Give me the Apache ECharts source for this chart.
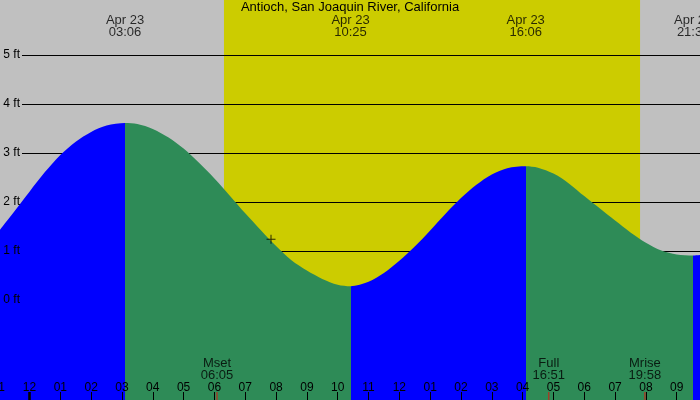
<!DOCTYPE html>
<html>
<head>
<meta charset="utf-8">
<script src="https://cdn.jsdelivr.net/npm/echarts@6/dist/echarts.min.js"></script>
<style>
  html, body { margin: 0; padding: 0; background: #c0c0c0; }
  #chart { width: 700px; height: 400px; }
</style>
</head>
<body>
<div id="chart"></div>
<script>
// tide height (ft), hours since midnight Apr 23
const tideHours = [-1, -0.5, 0, 0.5, 1, 1.5, 2, 2.5, 3.1, 3.5, 4, 4.5, 5, 5.5, 6, 6.5, 7, 7.5, 8, 8.5, 9, 9.5, 10, 10.417,
  11, 11.5, 12, 12.5, 13, 13.5, 14, 14.5, 15, 15.5, 16.1, 16.5, 17, 17.5, 18, 18.5, 19, 19.5, 20, 20.5, 21, 21.533, 22];
const tideFeet = [1.40, 1.80, 2.21, 2.61, 2.96, 3.23, 3.43, 3.56, 3.61, 3.59, 3.49, 3.32, 3.09, 2.80, 2.48, 2.13, 1.77, 1.43, 1.10, 0.81, 0.60, 0.43, 0.31, 0.28,
  0.37, 0.55, 0.80, 1.09, 1.42, 1.76, 2.08, 2.35, 2.56, 2.69, 2.73, 2.70, 2.58, 2.38, 2.12, 1.87, 1.62, 1.38, 1.17, 1.01, 0.93, 0.91, 0.94];

// high / low tide times (first one is a high)
const extremeHours = [3.1, 10.417, 16.1, 21.533];
const extremeTimes = ['03:06', '10:25', '16:06', '21:32'];
const extremeDate = 'Apr 23';

const sunHours = [6.31, 19.81];          // sunrise, sunset
const moonHours = [6.083, 16.85, 19.967];
const moonNames = ['Mset', 'Full', 'Mrise'];
const moonTimes = ['06:05', '16:51', '19:58'];
const midnightHours = [0];
const nowPoint = [7.836, 1.24];
const feetTicks = [0, 5];                // lines drawn for 0..5 ft

const title = 'Antioch, San Joaquin River, California';

// visible range of the main grid: 0 ft at y=300, 49 px per ft
const FT_MIN = -100 / 49;
const FT_MAX = 300 / 49;

const BLUE = '#0000ff';
const GREEN = '#2e8b57';
const FONT = 'Liberation Sans, Arial, sans-serif';

// rising = blue, falling = green
const pieces = [{ lt: extremeHours[0], color: BLUE }];
for (let i = 0; i < extremeHours.length; i++) {
  const p = { gte: extremeHours[i], color: i % 2 === 0 ? GREEN : BLUE };
  if (i + 1 < extremeHours.length) p.lt = extremeHours[i + 1];
  pieces.push(p);
}

const hourLabel = v => {
  let h = ((v % 12) + 12) % 12;
  if (h === 0) h = 12;
  return String(h).padStart(2, '0');
};

const chart = echarts.init(document.getElementById('chart'));
chart.setOption({
  backgroundColor: '#c0c0c0',
  animation: false,
  textStyle: { fontFamily: FONT },
  title: {
    text: title, left: 'center', top: 1, padding: 0,
    textStyle: { fontSize: 13, fontWeight: 'normal', color: '#000', fontFamily: FONT }
  },
  grid: [
    { left: -1.32, right: -7.54, top: 0, bottom: 0, outerBoundsMode: 'none', containLabel: false },
    { left: 22, right: 0, top: 55, bottom: 100, outerBoundsMode: 'none', containLabel: false }
  ],
  xAxis: [
    {
      gridIndex: 0, type: 'value', min: -1, max: 22, interval: 1, z: 4, position: 'bottom',
      axisLine: { show: false, onZero: false },
      splitLine: { show: false },
      axisTick: { show: true, inside: true, length: 8, lineStyle: { color: '#000', width: 1 } },
      axisLabel: { inside: true, margin: 6, color: '#000', fontSize: 12, fontFamily: FONT, formatter: hourLabel }
    },
    { gridIndex: 1, type: 'value', min: 0, max: 1, show: false, axisLine: { onZero: false } }
  ],
  yAxis: [
    { gridIndex: 0, type: 'value', min: FT_MIN, max: FT_MAX, show: false, axisLine: { onZero: false } },
    {
      gridIndex: 1, type: 'value', min: feetTicks[0], max: feetTicks[1], interval: 1, z: 2, position: 'left',
      axisLine: { show: false, onZero: false }, axisTick: { show: false }, axisLabel: { show: false },
      splitLine: { show: true, lineStyle: { color: '#000', width: 1 } }
    },
    {
      gridIndex: 1, type: 'value', min: feetTicks[0], max: feetTicks[1], interval: 1, z: 4, position: 'left', offset: 0,
      axisLine: { show: false, onZero: false }, axisTick: { show: false }, splitLine: { show: false },
      axisLabel: { margin: 2, color: '#000', fontSize: 12, fontFamily: FONT, formatter: v => v + ' ft' }
    }
  ],
  visualMap: {
    type: 'piecewise', show: false, dimension: 0, seriesIndex: 1, pieces: pieces
  },
  series: [
    {
      name: 'daylight', type: 'line', xAxisIndex: 0, yAxisIndex: 0, z: 1,
      data: sunHours.map(h => [h, FT_MAX]),
      symbol: 'none', lineStyle: { width: 0 },
      areaStyle: { color: '#cccc00', opacity: 1, origin: 'start' }
    },
    {
      name: 'tide', type: 'line', xAxisIndex: 0, yAxisIndex: 0, z: 3,
      data: tideHours.map((h, i) => [h, tideFeet[i]]),
      smooth: 0.3, symbol: 'none', lineStyle: { width: 0 },
      areaStyle: { opacity: 1, origin: 'start' }
    },
    {
      name: 'extremes', type: 'scatter', xAxisIndex: 0, yAxisIndex: 0, z: 5, clip: false,
      symbolSize: 0, silent: true,
      data: extremeHours.map((h, i) => ({ value: [h, FT_MAX], time: extremeTimes[i] })),
      label: {
        show: true, position: 'bottom', distance: 14, color: '#000', fontSize: 13, lineHeight: 12, fontFamily: FONT,
        formatter: p => extremeDate + '\n' + p.data.time
      }
    },
    {
      name: 'moon', type: 'scatter', xAxisIndex: 0, yAxisIndex: 0, z: 5, clip: false,
      symbol: 'rect', symbolSize: [1, 8], symbolOffset: [0, -4],
      itemStyle: { color: '#ff0000' },
      data: moonHours.map((h, i) => ({ value: [h, FT_MIN], name: moonNames[i], time: moonTimes[i] })),
      label: {
        show: true, position: 'top', distance: 11, color: '#000', fontSize: 13, lineHeight: 12, fontFamily: FONT,
        formatter: p => p.data.name + '\n' + p.data.time
      }
    },
    {
      name: 'midnight', type: 'scatter', xAxisIndex: 0, yAxisIndex: 0, z: 5, clip: false,
      symbol: 'rect', symbolSize: [3, 8], symbolOffset: [0, -4],
      itemStyle: { color: '#000' },
      data: midnightHours.map(h => [h, FT_MIN])
    },
    {
      name: 'now', type: 'scatter', xAxisIndex: 0, yAxisIndex: 0, z: 5,
      symbol: 'path://M0,4h9v1h-9zM4,0h1v9h-1z', symbolSize: 9,
      itemStyle: { color: '#000' },
      data: [nowPoint]
    }
  ]
});
</script>
</body>
</html>
